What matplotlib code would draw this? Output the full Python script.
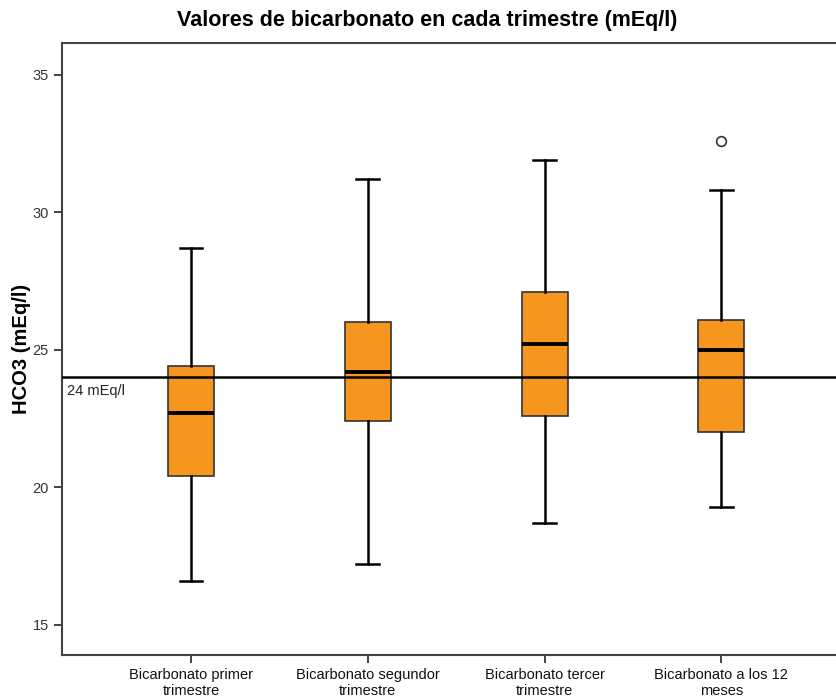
import matplotlib
matplotlib.use("Agg")
import matplotlib.pyplot as plt

plt.rcParams["font.family"] = ["Liberation Sans", "DejaVu Sans"]

labels = [
    "Bicarbonato primer\ntrimestre",
    "Bicarbonato segundor\ntrimestre",
    "Bicarbonato tercer\ntrimestre",
    "Bicarbonato a los 12\nmeses",
]
whisker_low = [16.6, 17.2, 18.7, 19.3]
q1 = [20.4, 22.4, 22.6, 22.0]
median = [22.7, 24.2, 25.2, 25.0]
q3 = [24.4, 26.0, 27.1, 26.1]
whisker_high = [28.7, 31.2, 31.9, 30.8]
outliers = [[], [], [], [32.6]]
reference = 24

stats = []
for i in range(len(labels)):
    stats.append({
        "whislo": whisker_low[i], "q1": q1[i], "med": median[i],
        "q3": q3[i], "whishi": whisker_high[i], "fliers": outliers[i],
        "label": labels[i],
    })

fig = plt.figure(figsize=(8.37, 6.99), dpi=100)
ax = fig.add_axes([0.074, 0.063, 0.94, 0.875])

ax.bxp(
    stats,
    positions=[1, 2, 3, 4],
    widths=0.26,
    patch_artist=True,
    boxprops=dict(facecolor="#F7961E", edgecolor="#333333", linewidth=1.2),
    medianprops=dict(color="black", linewidth=2.8),
    whiskerprops=dict(color="black", linewidth=1.8),
    capprops=dict(color="black", linewidth=1.8),
    capwidths=0.13,
    flierprops=dict(marker="o", markerfacecolor="white", markeredgecolor="#333333",
                    markersize=7, markeredgewidth=1.2),
    zorder=2,
)

ax.axhline(reference, color="black", linewidth=1.8, zorder=3)
ax.text(0.3, reference - 0.25, "24 mEq/l", ha="left", va="top", fontsize=10.5,
        color="#222222")

ax.set_xlim(0.27, 4.72)
ax.set_ylim(13.9, 36.15)
ax.set_yticks([15, 20, 25, 30, 35])
ax.tick_params(axis="y", labelsize=10.5, labelcolor="#333333", length=6,
               width=1.3, color="#333333")
ax.tick_params(axis="x", labelsize=10.5, labelcolor="#111111", length=6,
               width=1.3, color="#333333")
for s in ["left", "top", "bottom", "right"]:
    ax.spines[s].set_color("#444444")
    ax.spines[s].set_linewidth(1.5)

ax.set_ylabel("HCO3 (mEq/l)", fontsize=14.5, fontweight="bold")
ax.yaxis.set_label_coords(-0.039, 0.5)
fig.suptitle("Valores de bicarbonato en cada trimestre (mEq/l)", fontsize=15.5,
             fontweight="bold", x=0.51, y=0.985)

fig.savefig("out.png", dpi=100)
